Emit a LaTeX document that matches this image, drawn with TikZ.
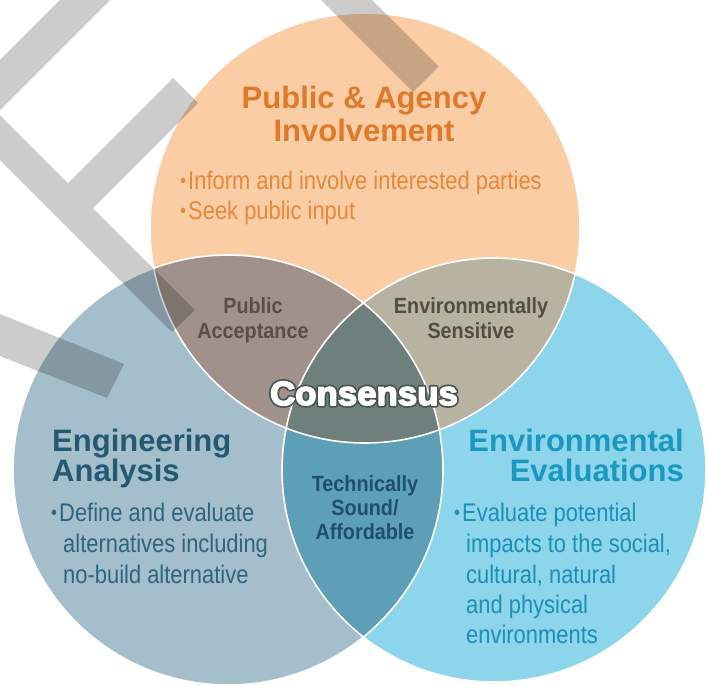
\documentclass[tikz,border=0pt]{standalone}
\usepackage{fontspec}
\setmainfont{Liberation Sans}
\newfontfamily\bodyfont{Liberation Sans}[FakeStretch=0.86]
\newfontfamily\labfont{Liberation Sans}[FakeStretch=0.9]
\newfontfamily\consfont{Liberation Sans Bold}[FakeStretch=1.04]
\definecolor{corange}{HTML}{FACDA5}
\definecolor{cleft}{HTML}{A4BECB}
\definecolor{cright}{HTML}{8DD5EA}
\definecolor{cOL}{HTML}{A0928A}
\definecolor{cOR}{HTML}{B7B3A0}
\definecolor{cLR}{HTML}{5E9FB8}
\definecolor{cC}{HTML}{6F807C}
\definecolor{tOrange}{HTML}{E07A2A}
\definecolor{bOrange}{HTML}{E8883A}
\definecolor{tPA}{HTML}{5A4E48}
\definecolor{tES}{HTML}{4E4E42}
\definecolor{tEng}{HTML}{245A70}
\definecolor{bEng}{HTML}{2E6480}
\definecolor{tTech}{HTML}{1E5068}
\definecolor{tEnv}{HTML}{1A98C0}
\definecolor{bEnv}{HTML}{1B8FB8}
\definecolor{consline}{HTML}{46554F}
\newcommand\smbul{\raisebox{0.06em}{\fontsize{20}{20}\selectfont\textbullet}\hspace{2pt}}
\newcommand\outl[1]{\leavevmode
  \rlap{\color{consline}\special{pdf:literal direct 1 j 5 w 2 Tr}#1\special{pdf:literal direct 0 Tr 1 w}}%
  {\color{white}\special{pdf:literal direct 1 j 1.5 w 2 Tr}#1\special{pdf:literal direct 0 Tr 1 w}}}
\tikzset{
  ttl/.style={font=\fontsize{31}{31}\selectfont\bfseries, inner sep=0},
  bod/.style={font=\bodyfont\fontsize{25.5}{25.5}\selectfont, inner sep=0, anchor=base west},
  lab/.style={font=\labfont\bfseries\fontsize{22}{22}\selectfont, inner sep=0, anchor=base},
  cons/.style={font=\consfont\fontsize{33.5}{33.5}\selectfont, inner sep=0, anchor=base},
  ring/.style={draw=white, line width=1.6},
  wmark/.style={fill=black, opacity=0.2}
}
\begin{document}
\begin{tikzpicture}[x=1pt,y=-1pt]
\useasboundingbox (0,0) rectangle (706,685);
\begin{scope}
  \clip (0,0) rectangle (706,685);
  % circles
  \fill[corange] (365,228) circle (215);
  \fill[cleft] (228,470) circle (215);
  \fill[cright] (494,470) circle (212);
  \begin{scope}
    \clip (365,228) circle (215);
    \fill[cOL] (228,470) circle (215);
    \fill[cOR] (494,470) circle (212);
  \end{scope}
  \begin{scope}
    \clip (228,470) circle (215);
    \fill[cLR] (494,470) circle (212);
  \end{scope}
  \begin{scope}
    \clip (365,228) circle (215);
    \clip (228,470) circle (215);
    \fill[cC] (494,470) circle (212);
  \end{scope}
  \draw[ring] (365,228) circle (215);
  \draw[ring] (228,470) circle (215);
  \draw[ring] (494,470) circle (212);
  % watermark bands
  \fill[wmark] (60,0) -- (110,0) -- (0,110) -- (0,60) -- cycle
    (0,115) -- (68,183) -- (173,78) -- (198,103) -- (93,208) -- (195,310) -- (172,332) -- (0,160) -- cycle
    (321,0) -- (372,0) -- (438.5,66.5) -- (413,92) -- cycle
    (0,314) -- (124,364) -- (107,398) -- (0,356) -- cycle;
\end{scope}
% top circle texts
\node[ttl, anchor=base, text=tOrange] (t1) at (364,108) {Public \& Agency};
\node[ttl, anchor=base, text=tOrange] (t2) at (364,141) {Involvement};
\node[bod, text=bOrange] (b1) at (180,189) {\smbul Inform and involve interested parties};
\node[bod, text=bOrange] (b2) at (180,219) {\smbul Seek public input};
% intersections
\node[lab, text=tPA] (pa1) at (253,313) {Public};
\node[lab, text=tPA] (pa2) at (253,338) {Acceptance};
\node[lab, text=tES] (es1) at (471,313) {Environmentally};
\node[lab, text=tES] (es2) at (471,338) {Sensitive};
\node[lab, text=tTech] (ts1) at (365,491) {Technically};
\node[lab, text=tTech] (ts2) at (365,515) {Sound/};
\node[lab, text=tTech] (ts3) at (365,539) {Affordable};
% consensus
\node[cons] (cons) at (364,405) {\outl{Consensus}};
% left circle texts
\node[ttl, anchor=base west, text=tEng] (e1) at (52,451) {Engineering};
\node[ttl, anchor=base west, text=tEng] (e2) at (52,481) {Analysis};
\node[bod, text=bEng] (e3) at (51,521) {\smbul Define and evaluate};
\node[bod, text=bEng] (e4) at (63,552) {alternatives including};
\node[bod, text=bEng] (e5) at (63,583) {no-build alternative};
% right circle texts
\node[ttl, anchor=base east, text=tEnv] (v1) at (684,451) {Environmental};
\node[ttl, anchor=base east, text=tEnv] (v2) at (684,481) {Evaluations};
\node[bod, text=bEnv] (v3) at (454,521) {\smbul Evaluate potential};
\node[bod, text=bEnv] (v4) at (466,552) {impacts to the social,};
\node[bod, text=bEnv] (v5) at (466,583) {cultural, natural};
\node[bod, text=bEnv] (v6) at (466,613) {and physical};
\node[bod, text=bEnv] (v7) at (466,643) {environments};
\end{tikzpicture}
\end{document}
